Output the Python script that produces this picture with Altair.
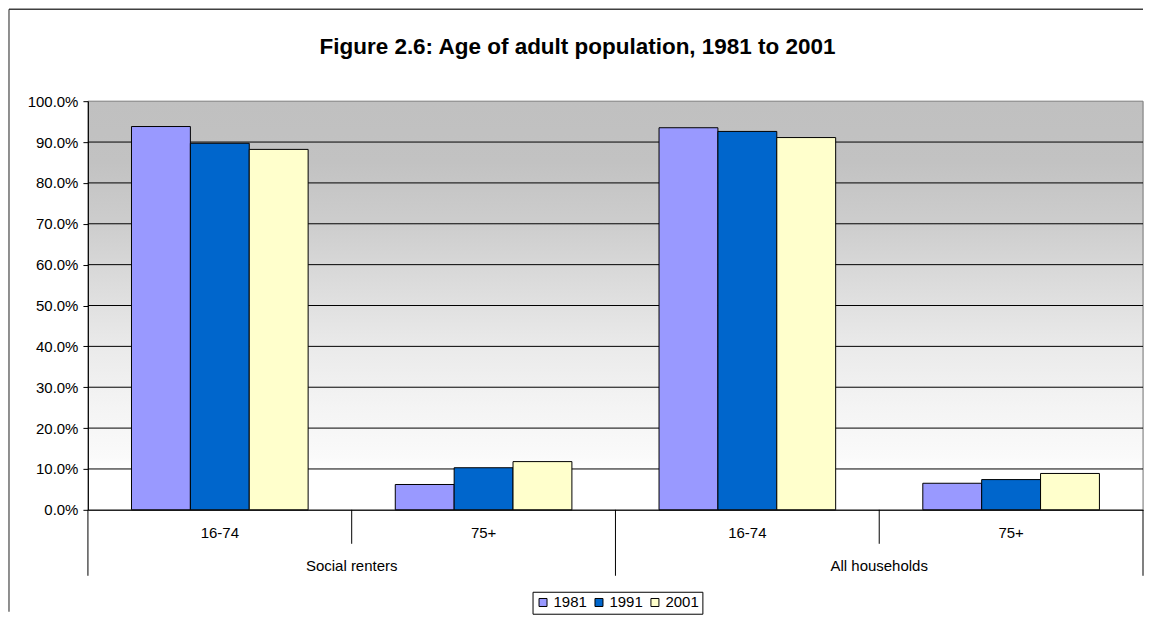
import altair as alt
import pandas as pd

groups = ["Social renters", "Social renters", "All households", "All households"]
ages = ["16-74", "75+", "16-74", "75+"]
years = ["1981", "1991", "2001"]
v1981 = [93.8, 6.2, 93.5, 6.5]
v1991 = [89.7, 10.3, 92.6, 7.4]
v2001 = [88.2, 11.8, 91.1, 8.9]
colors = ["#9999FF", "#0066CC", "#FFFFCC"]
title_text = "Figure 2.6: Age of adult population, 1981 to 2001"

W, H = 1056, 409
FONT = "Liberation Sans"
FS = 15

cats = [g + "|" + a for g, a in zip(groups, ages)]
rows = []
for i, c in enumerate(cats):
    for y, vals in zip(years, [v1981, v1991, v2001]):
        rows.append({"cat": c, "year": y, "value": vals[i]})
df = pd.DataFrame(rows)

xscale = alt.Scale(domain=cats, paddingInner=0, paddingOuter=0)
one = pd.DataFrame({"a": [0]})

bg = alt.Chart(one).mark_rect(
    color=alt.Gradient(
        gradient="linear",
        stops=[
            alt.GradientStop(color="#C0C0C0", offset=0),
            alt.GradientStop(color="#C2C2C2", offset=0.15),
            alt.GradientStop(color="#CDCDCD", offset=0.3),
            alt.GradientStop(color="#DCDCDC", offset=0.45),
            alt.GradientStop(color="#EAEAEA", offset=0.6),
            alt.GradientStop(color="#F4F4F4", offset=0.75),
            alt.GradientStop(color="#FAFAFA", offset=0.87),
            alt.GradientStop(color="#FFFFFF", offset=0.9),
            alt.GradientStop(color="#FFFFFF", offset=1),
        ],
        x1=0, x2=0, y1=0, y2=1,
    ),
    stroke="#808080", strokeWidth=1,
).encode(x=alt.value(0), x2=alt.value(W), y=alt.value(0), y2=alt.value(H))

grid = alt.Chart(pd.DataFrame({"g": [10, 20, 30, 40, 50, 60, 70, 80, 90]})).mark_rule(
    color="black", strokeWidth=1
).encode(y=alt.Y("g:Q", scale=alt.Scale(domain=[0, 100])), x=alt.value(0), x2=alt.value(W))

bars = alt.Chart(df).mark_bar(stroke="black", strokeWidth=1).encode(
    x=alt.X("cat:N", scale=xscale, sort=cats,
            axis=alt.Axis(labels=False, ticks=False, title=None, domain=True,
                          domainColor="black", domainWidth=1, zindex=1)),
    xOffset=alt.XOffset("year:N", scale=alt.Scale(domain=years, paddingInner=0, paddingOuter=0.74)),
    y=alt.Y("value:Q", scale=alt.Scale(domain=[0, 100]),
            axis=alt.Axis(values=list(range(0, 101, 10)), labelExpr="format(datum.value/100, '.1%')",
                          title=None, grid=False, domainColor="black", tickColor="black",
                          tickSize=5, labelPadding=5, labelFontSize=FS, labelColor="black",
                          labelFont=FONT, zindex=1)),
    color=alt.Color("year:N", scale=alt.Scale(domain=years, range=colors),
                    legend=alt.Legend(title=None, orient="none", legendX=445, legendY=491,
                                      direction="horizontal", strokeColor="black", fillColor="white",
                                      padding=3, symbolType="square", symbolSize=64,
                                      symbolStrokeColor="black", symbolStrokeWidth=1,
                                      labelFontSize=FS, labelFont=FONT, labelColor="black",
                                      labelOffset=3, columnPadding=4)),
)

inner = alt.Chart(pd.DataFrame({"cat": cats, "age": ages})).mark_text(
    fontSize=FS, font=FONT, color="black", baseline="middle"
).encode(x=alt.X("cat:N", scale=xscale, sort=cats), y=alt.value(432), text="age:N")

outer_df = pd.DataFrame({"cat": [cats[1], cats[3]], "grp": [groups[1], groups[3]]})
outer = alt.Chart(outer_df).mark_text(
    fontSize=FS, font=FONT, color="black", baseline="middle"
).encode(x=alt.X("cat:N", scale=xscale, sort=cats, bandPosition=0), y=alt.value(465), text="grp:N")

short_ticks = alt.Chart(pd.DataFrame({"cat": [cats[1], cats[3]]})).mark_rule(color="black").encode(
    x=alt.X("cat:N", scale=xscale, sort=cats, bandPosition=0), y=alt.value(H), y2=alt.value(H + 34))
long_ticks = alt.Chart(pd.DataFrame({"cat": [cats[0], cats[2]]})).mark_rule(color="black").encode(
    x=alt.X("cat:N", scale=xscale, sort=cats, bandPosition=0), y=alt.value(H), y2=alt.value(H + 66))
end_tick = alt.Chart(pd.DataFrame({"cat": [cats[3]]})).mark_rule(color="black").encode(
    x=alt.X("cat:N", scale=xscale, sort=cats, bandPosition=1), y=alt.value(H), y2=alt.value(H + 66))

title = alt.Chart(pd.DataFrame({"t": [title_text]})).mark_text(
    fontSize=22.5, fontWeight="bold", font=FONT, color="black", baseline="middle", align="center"
).encode(x=alt.value(490), y=alt.value(-54), text="t:N")

border_top = alt.Chart(one).mark_rule(color="#404040", strokeWidth=1.5).encode(
    x=alt.value(-79), x2=alt.value(W), y=alt.value(-92))
border_left = alt.Chart(one).mark_rule(color="#202020", strokeWidth=1).encode(
    x=alt.value(-79), y=alt.value(-92), y2=alt.value(511))

chart = alt.layer(
    bg, grid, bars, inner, outer, short_ticks, long_ticks, end_tick, title, border_top, border_left
).resolve_scale(x="shared").properties(
    width=W, height=H, padding=0
).configure_view(stroke=None).configure(font=FONT)

chart.save("out.html", embed_options={"renderer": "svg", "actions": False})
